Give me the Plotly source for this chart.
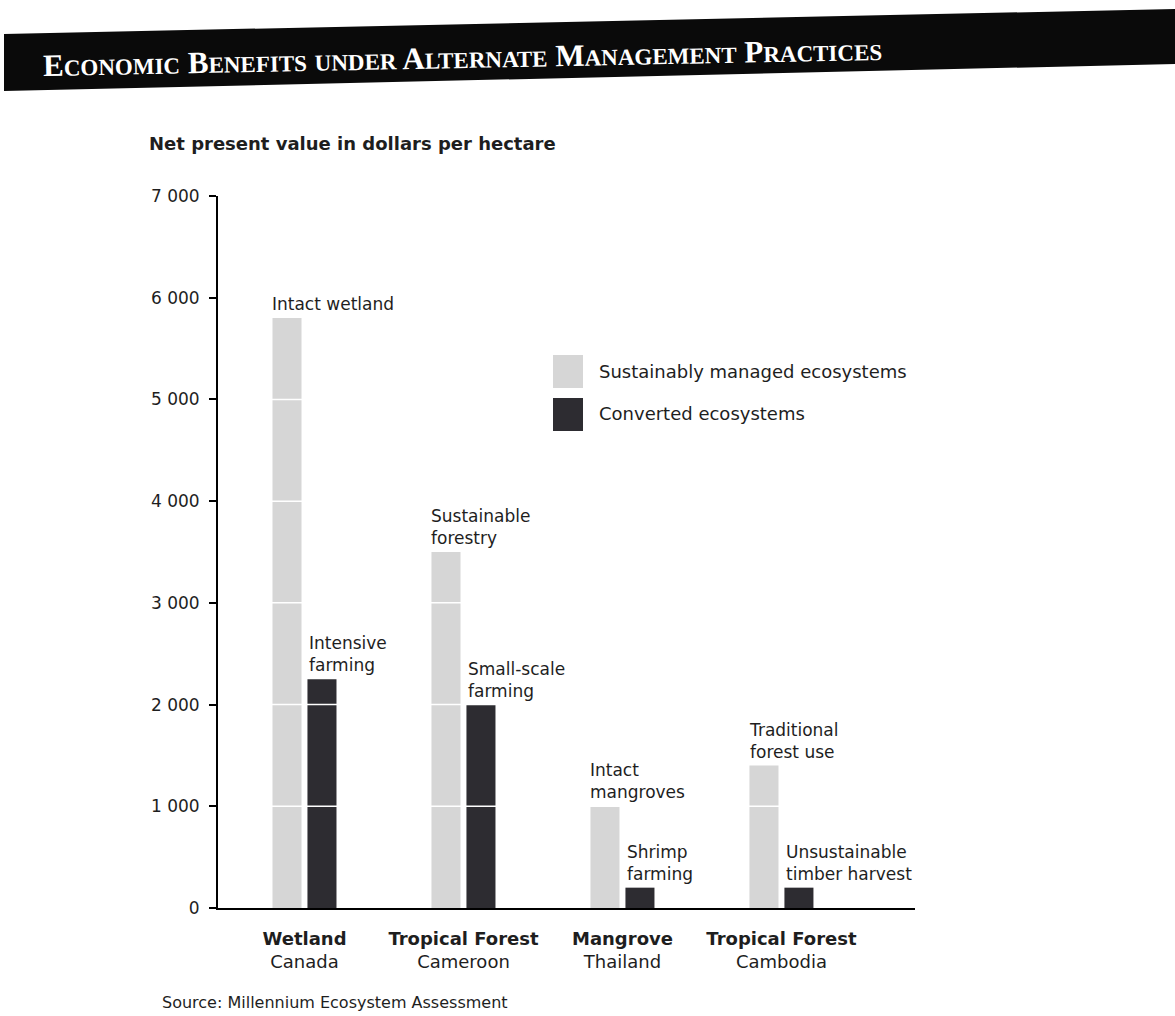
import plotly.graph_objects as go

# ---------------- data ----------------
regions = ["Wetland", "Tropical Forest", "Mangrove", "Tropical Forest"]
countries = ["Canada", "Cameroon", "Thailand", "Cambodia"]
sustainable_values = [5800, 3500, 1000, 1400]
converted_values = [2250, 2000, 200, 200]
sustainable_labels = ["Intact wetland", "Sustainable<br>forestry", "Intact<br>mangroves", "Traditional<br>forest use"]
converted_labels = ["Intensive<br>farming", "Small-scale<br>farming", "Shrimp<br>farming", "Unsustainable<br>timber harvest"]
series_names = ["Sustainably managed ecosystems", "Converted ecosystems"]
y_ticks = [0, 1000, 2000, 3000, 4000, 5000, 6000, 7000]
y_ticktext = ["0", "1 000", "2 000", "3 000", "4 000", "5 000", "6 000", "7 000"]

# ---------------- layout geometry (pixels) ----------------
W, H = 1175, 1016
PL, PR, PT, PB = 218, 915, 196, 908  # plot area


def px(x):
    return (x - PL) / (PR - PL)


def py(y):
    return (PB - y) / (PB - PT)


LIGHT = "#d6d6d6"
DARK = "#2d2c31"
TXT = "#1e1e1e"
FONT = "DejaVu Sans"

cats = [f"<b>{r}</b><br>{c}" for r, c in zip(regions, countries)]
xkeys = [f"c{i}" for i in range(len(cats))]

fig = go.Figure()
fig.add_trace(go.Bar(x=xkeys, y=sustainable_values, name=series_names[0],
                     marker=dict(color=LIGHT, line=dict(width=0)), showlegend=False))
fig.add_trace(go.Bar(x=xkeys, y=converted_values, name=series_names[1],
                     marker=dict(color=DARK, line=dict(width=0)), showlegend=False))

annotations = []
# bar labels
for k, v, t in zip(xkeys, sustainable_values, sustainable_labels):
    annotations.append(dict(x=k, y=v, text=t, xref="x", yref="y", showarrow=False,
                            xanchor="left", yanchor="bottom", align="left",
                            xshift=-34, yshift=2, font=dict(family=FONT, size=17, color=TXT)))
for k, v, t in zip(xkeys, converted_values, converted_labels):
    annotations.append(dict(x=k, y=v, text=t, xref="x", yref="y", showarrow=False,
                            xanchor="left", yanchor="bottom", align="left",
                            xshift=3, yshift=2, font=dict(family=FONT, size=17, color=TXT)))

# y-axis title
annotations.append(dict(x=px(147), y=py(143), xref="paper", yref="paper", showarrow=False,
                        xanchor="left", yanchor="middle",
                        text="<b>Net present value in dollars per hectare</b>",
                        font=dict(family=FONT, size=18, color=TXT)))
# source
annotations.append(dict(x=px(160), y=py(1002), xref="paper", yref="paper", showarrow=False,
                        xanchor="left", yanchor="middle",
                        text="Source: Millennium Ecosystem Assessment",
                        font=dict(family=FONT, size=16, color=TXT)))
# legend text
annotations.append(dict(x=px(597), y=py(371), xref="paper", yref="paper", showarrow=False,
                        xanchor="left", yanchor="middle", text=series_names[0],
                        font=dict(family=FONT, size=18, color=TXT)))
annotations.append(dict(x=px(597), y=py(413), xref="paper", yref="paper", showarrow=False,
                        xanchor="left", yanchor="middle", text=series_names[1],
                        font=dict(family=FONT, size=18, color=TXT)))


# header title (small caps)
def small_caps(title, big=31, small=23):
    out = []
    for word in title.split(" "):
        if word.lower() == "under":
            out.append(f'<span style="font-size:{small}px">{word.upper()}</span>')
        else:
            out.append(f'<span style="font-size:{big}px">{word[0].upper()}</span>'
                       f'<span style="font-size:{small}px">{word[1:].upper()}</span>')
    return "<b>" + " ".join(out) + "</b>"


annotations.append(dict(x=px(462), y=py(58), xref="paper", yref="paper", showarrow=False,
                        xanchor="center", yanchor="middle", textangle=-1.1,
                        text=small_caps("Economic Benefits under Alternate Management Practices"),
                        font=dict(family="Liberation Serif", size=31, color="white")))

shapes = []
# header bar (slightly tilted like the scan)
pts = [(4, 34), (1175, 9), (1175, 64), (4, 91)]
path = "M " + " L ".join(f"{px(x):.5f},{py(y):.5f}" for x, y in pts) + " Z"
shapes.append(dict(type="path", path=path, xref="paper", yref="paper",
                   fillcolor="#0a0a0a", line=dict(width=0), layer="above"))
# white grid breaks across bars
for v in y_ticks[1:-1]:
    shapes.append(dict(type="line", xref="paper", yref="y", x0=0.005, x1=1, y0=v, y1=v,
                       line=dict(color="white", width=1.5), layer="above"))
# legend swatches (drawn after grid breaks)
shapes.append(dict(type="rect", xref="paper", yref="paper", x0=px(553), x1=px(583),
                   y0=py(388), y1=py(355), fillcolor=LIGHT, line=dict(width=0), layer="above"))
shapes.append(dict(type="rect", xref="paper", yref="paper", x0=px(553), x1=px(583),
                   y0=py(431), y1=py(398), fillcolor=DARK, line=dict(width=0), layer="above"))

fig.update_layout(
    width=W, height=H,
    margin=dict(l=PL, r=W - PR, t=PT, b=H - PB, pad=0),
    paper_bgcolor="white", plot_bgcolor="white",
    barmode="group", bargap=0.56, bargroupgap=0.17,
    font=dict(family=FONT, color=TXT),
    annotations=annotations, shapes=shapes,
    xaxis=dict(type="category", tickvals=xkeys, ticktext=cats, range=[-0.544, 3.84],
               showline=True, linecolor="black", linewidth=2, ticks="",
               showgrid=False, zeroline=False, ticklabelstandoff=13,
               tickfont=dict(family=FONT, size=18, color=TXT)),
    yaxis=dict(range=[0, 7000], tickvals=y_ticks, ticktext=y_ticktext,
               showline=True, linecolor="black", linewidth=2,
               ticks="outside", ticklen=7, tickwidth=1.5, tickcolor="black",
               showgrid=False, zeroline=False, ticklabelstandoff=6,
               tickfont=dict(family=FONT, size=17, color=TXT)),
)

fig.write_html("out.html")
